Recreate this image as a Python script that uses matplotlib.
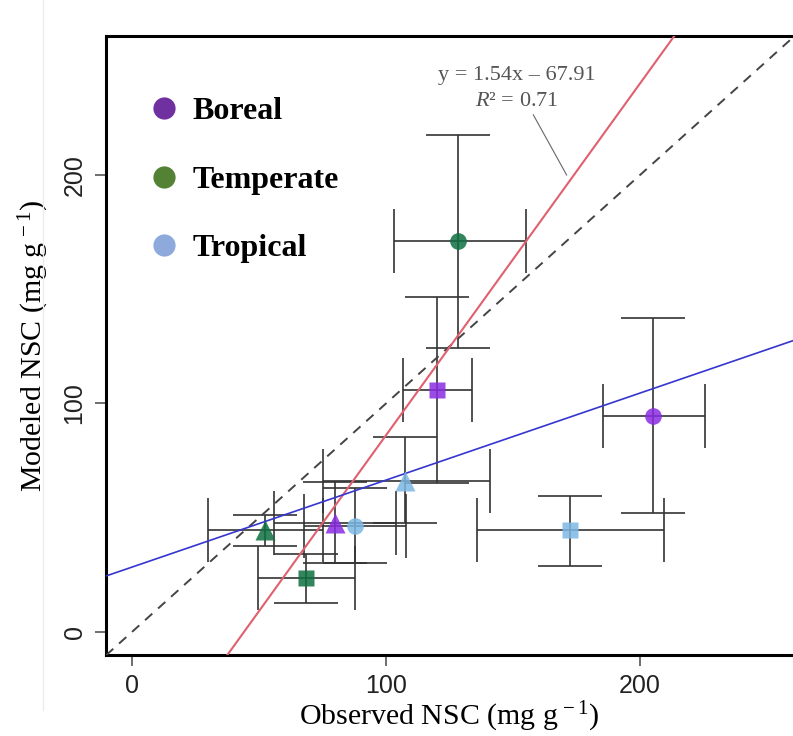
import numpy as np
import matplotlib
matplotlib.use("Agg")
import matplotlib.pyplot as plt
from matplotlib.lines import Line2D

# observed / modeled NSC (mg g-1), one row per biome x dataset
biomes = ["Boreal", "Boreal", "Boreal",
          "Temperate", "Temperate", "Temperate",
          "Tropical", "Tropical", "Tropical"]
shapes = ["o", "s", "^", "o", "s", "^", "o", "s", "^"]
obs = [205.2, 120.1, 79.9, 128.3, 68.5, 52.4, 87.8, 172.4, 107.5]
mod = [94.7, 105.7, 47.6, 171.1, 23.8, 44.6, 46.4, 44.6, 66.2]
obs_lo = [185.3, 106.7, 56.0, 103.1, 49.7, 29.8, 67.7, 136.0, 75.1]
obs_hi = [225.6, 133.9, 104.0, 155.1, 87.8, 75.1, 107.9, 209.4, 141.0]
mod_lo = [51.9, 65.2, 30.3, 124.3, 12.8, 37.6, 30.0, 29.0, 47.7]
mod_hi = [137.6, 146.6, 65.8, 217.5, 34.1, 51.3, 62.9, 59.5, 85.5]

fit_slope, fit_icpt, fit_r2 = 1.54, -67.91, 0.71

legend_names = ["Boreal", "Temperate", "Tropical"]
legend_colors = ["#7030A0", "#548235", "#8EA9DB"]
point_colors = {"Boreal": "#8A2BE2", "Temperate": "#0E7040", "Tropical": "#7DB6E3"}
marker_size = {"o": 12, "s": 12, "^": 14}

plt.rcParams["mathtext.fontset"] = "custom"
plt.rcParams["mathtext.rm"] = "Liberation Serif"
plt.rcParams["mathtext.it"] = "Liberation Serif:italic"
tick_font = ["Liberation Sans Narrow", "Liberation Sans", "DejaVu Sans"]
serif = ["Liberation Serif", "DejaVu Serif"]

fig = plt.figure(figsize=(7.93, 7.36), dpi=100)
ax = fig.add_axes([0.1337, 0.110, 0.8663, 0.841])
xlim = (-10.2, 260.2)
ylim = (-10.1, 260.8)

# error bars
for i in range(len(obs)):
    ax.errorbar(obs[i], mod[i],
                xerr=[[obs[i] - obs_lo[i]], [obs_hi[i] - obs[i]]],
                yerr=[[mod[i] - mod_lo[i]], [mod_hi[i] - mod[i]]],
                fmt="none", ecolor="#333333", elinewidth=1.4, capsize=23,
                capthick=1.4, alpha=0.85, zorder=2)

# 1:1 line, fitted line from the annotation, OLS line of the points
xs = np.array(xlim)
ax.plot(xs, xs, ls=(0, (5, 4)), color="#444444", lw=1.4, zorder=3)
ax.plot(xs, fit_slope * xs + fit_icpt, color="#E06070", lw=1.5, zorder=3)
b1, b0 = np.polyfit(obs, mod, 1)
ax.plot(xs, b1 * xs + b0, color="#3535D0", lw=1.2, zorder=3)

for i in range(len(obs)):
    ax.plot(obs[i], mod[i], marker=shapes[i], ms=marker_size[shapes[i]], ls="none",
            color=point_colors[biomes[i]], alpha=0.85, mec="none", zorder=4)

ax.set_xlim(xlim)
ax.set_ylim(ylim)
ax.set_xticks([0, 100, 200])
ax.set_yticks([0, 100, 200])
ax.tick_params(direction="out", length=8, width=1.2, color="#555555",
               labelsize=18, labelcolor="#222222", pad=6)
for lab in ax.get_xticklabels() + ax.get_yticklabels():
    lab.set_family(tick_font)
for lab in ax.get_yticklabels():
    lab.set_rotation(90)
    lab.set_va("center")
for side in ["left", "bottom", "top"]:
    ax.spines[side].set_linewidth(2.2)
    ax.spines[side].set_color("black")
ax.spines["right"].set_visible(False)

ax.set_xlabel(r"Observed NSC (mg g$^{\,-1}$)", fontsize=21.5, family=serif, labelpad=1)
ax.set_ylabel(r"Modeled NSC (mg g$^{\,-1}$)", fontsize=21.5, family=serif, labelpad=8)

handles = [Line2D([], [], marker="o", ls="none", ms=16, color=c, mec="none")
           for c in legend_colors]
ax.legend(handles, legend_names, loc="upper left", bbox_to_anchor=(0.014, 0.948),
          frameon=False, handletextpad=0.3, labelspacing=1.22, handlelength=1.2,
          prop={"family": serif, "weight": "bold", "size": 23})

ax.text(151.5, 243.5, "y = %.2fx \u2013 %.2f" % (fit_slope, -fit_icpt), fontsize=16,
        family=serif, color="#555555", ha="center", va="center")
ax.text(151.5, 232.0, r"$R$" + "\u00b2 = %.2f" % fit_r2, fontsize=16,
        family=serif, color="#555555", ha="center", va="center")
ax.plot([158.0, 171.1], [226.3, 200.0], color="#666666", lw=0.8, zorder=3)

# faint edge of the pasted panel at the far left
fig.add_artist(Line2D([43 / 793, 43 / 793], [1 - 710 / 736, 1.0],
                      color="#ececec", lw=1))

fig.savefig("out.png", dpi=100)
